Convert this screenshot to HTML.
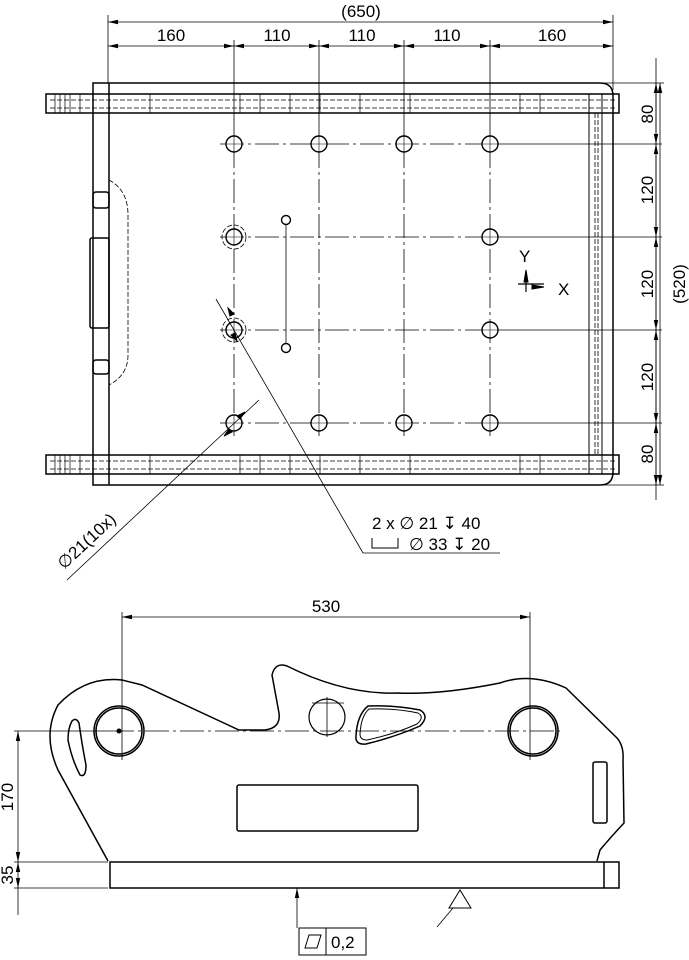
<!DOCTYPE html>
<html><head><meta charset="utf-8"><style>
html,body{margin:0;padding:0;background:#fff}
svg{display:block}
text{font-family:"Liberation Sans",Arial,sans-serif;fill:#000}
</style></head><body>
<svg width="689" height="960" viewBox="0 0 689 960" xmlns="http://www.w3.org/2000/svg">
<defs>
<marker id="a" markerWidth="10" markerHeight="6" refX="10" refY="3" orient="auto-start-reverse" markerUnits="userSpaceOnUse"><path d="M0,0.8 L10,3 L0,5.2z" fill="#000"/></marker>
</defs>
<g fill="none" stroke="#000">
<g stroke-width="0.8">
<line x1="108" y1="22" x2="613" y2="22" marker-start="url(#a)" marker-end="url(#a)"/>
<line x1="108" y1="46" x2="234" y2="46" marker-start="url(#a)" marker-end="url(#a)"/>
<line x1="234" y1="46" x2="319" y2="46" marker-start="url(#a)" marker-end="url(#a)"/>
<line x1="319" y1="46" x2="404" y2="46" marker-start="url(#a)" marker-end="url(#a)"/>
<line x1="404" y1="46" x2="490" y2="46" marker-start="url(#a)" marker-end="url(#a)"/>
<line x1="490" y1="46" x2="613" y2="46" marker-start="url(#a)" marker-end="url(#a)"/>
<line x1="108" y1="15" x2="108" y2="83"/>
<line x1="613" y1="15" x2="613" y2="90"/>
<line x1="234" y1="40" x2="234" y2="144"/>
<line x1="319" y1="40" x2="319" y2="144"/>
<line x1="404" y1="40" x2="404" y2="144"/>
<line x1="490" y1="40" x2="490" y2="144"/>
<line x1="656" y1="58" x2="656" y2="500"/>
<line x1="656" y1="83" x2="656" y2="144" marker-start="url(#a)" marker-end="url(#a)"/>
<line x1="656" y1="144" x2="656" y2="237" marker-start="url(#a)" marker-end="url(#a)"/>
<line x1="656" y1="237" x2="656" y2="330" marker-start="url(#a)" marker-end="url(#a)"/>
<line x1="656" y1="330" x2="656" y2="423" marker-start="url(#a)" marker-end="url(#a)"/>
<line x1="656" y1="423" x2="656" y2="485" marker-start="url(#a)" marker-end="url(#a)"/>
<line x1="660" y1="83" x2="660" y2="485" marker-start="url(#a)" marker-end="url(#a)"/>
<line x1="600" y1="83" x2="664" y2="83"/>
<line x1="600" y1="485" x2="664" y2="485"/>
<line x1="490" y1="144" x2="662" y2="144"/>
<line x1="490" y1="237" x2="662" y2="237"/>
<line x1="490" y1="330" x2="662" y2="330"/>
<line x1="490" y1="423" x2="662" y2="423"/>
</g>
<g stroke-width="1.5">
<path d="M93,83 H600 Q613,83 613,96 V472 Q613,485 600,485 H93 Z"/>
<line x1="109" y1="83" x2="109" y2="485"/>
<rect x="46" y="94" width="573" height="19"/>
<rect x="46" y="455" width="573" height="19"/>
<rect x="589" y="94" width="13" height="380" stroke-width="1"/>
<rect x="90" y="238" width="19" height="90" rx="2"/>
<rect x="93" y="192" width="16" height="16" rx="3"/>
<rect x="93" y="360" width="16" height="14" rx="3"/>
</g>
<g stroke-width="0.8" stroke-dasharray="5 2">
<line x1="50" y1="100" x2="615" y2="100"/>
<line x1="50" y1="108" x2="615" y2="108"/>
<line x1="50" y1="461" x2="615" y2="461"/>
<line x1="50" y1="469" x2="615" y2="469"/>
<line x1="595" y1="113" x2="595" y2="455"/>
<line x1="598" y1="113" x2="598" y2="455"/>
<path d="M109,180 Q128,190 128,215 V355 Q128,375 109,385"/>
<circle cx="234" cy="237" r="12"/>
<circle cx="234" cy="330" r="12"/>
</g>
<g stroke-width="0.7">
<path d="M55,94v19M60,94v19M65,94v19M70,94v19M80,94v19M150,94v19M240,94v19M260,94v19M290,94v19M320,94v19M360,94v19M410,94v19M520,94v19M540,94v19"/>
<path d="M55,455v19M60,455v19M65,455v19M70,455v19M80,455v19M150,455v19M240,455v19M260,455v19M290,455v19M320,455v19M360,455v19M410,455v19M520,455v19M540,455v19"/>
</g>
<g stroke-width="0.8" stroke-dasharray="24 4 3 4">
<line x1="220" y1="144" x2="490" y2="144"/>
<line x1="220" y1="237" x2="490" y2="237"/>
<line x1="220" y1="330" x2="490" y2="330"/>
<line x1="220" y1="423" x2="490" y2="423"/>
<line x1="234" y1="144" x2="234" y2="436"/>
<line x1="319" y1="144" x2="319" y2="436"/>
<line x1="404" y1="144" x2="404" y2="436"/>
<line x1="490" y1="144" x2="490" y2="436"/>
</g>
<line x1="286" y1="220" x2="286" y2="348" stroke-width="0.8"/>
<g stroke-width="1.4" fill="#fff">
<circle cx="234" cy="144" r="8"/><circle cx="319" cy="144" r="8"/><circle cx="404" cy="144" r="8"/><circle cx="490" cy="144" r="8"/>
<circle cx="234" cy="237" r="8"/><circle cx="490" cy="237" r="8"/>
<circle cx="234" cy="330" r="8"/><circle cx="490" cy="330" r="8"/>
<circle cx="234" cy="423" r="8"/><circle cx="319" cy="423" r="8"/><circle cx="404" cy="423" r="8"/><circle cx="490" cy="423" r="8"/>
<circle cx="286" cy="220" r="4.5"/><circle cx="286" cy="348" r="4.5"/>
</g>
<g stroke-width="0.6">
<path d="M234,136v16M226,144h16M319,136v16M311,144h16M404,136v16M396,144h16M490,136v16M482,144h16M234,229v16M226,237h16M490,229v16M482,237h16M234,322v16M226,330h16M490,322v16M482,330h16M234,415v16M226,423h16M319,415v16M311,423h16M404,415v16M396,423h16M490,415v16M482,423h16"/>
</g>
<g stroke-width="1.2"><line x1="526" y1="272" x2="526" y2="292"/><line x1="518" y1="284" x2="544" y2="284"/></g>
<path d="M526,270 l-2,12 h4z M544,287 l-12,-2 v4z" fill="#000"/>
<g stroke-width="0.8">
<line x1="67" y1="580" x2="259" y2="400"/>
<line x1="216" y1="299" x2="363" y2="553"/>
<line x1="363" y1="553" x2="500" y2="553"/>
</g>
<path d="M245,412 l-8,4 l3,3z M224,436 l8,-4 l-3,-3z M228,308 l2,8 l4,-2z M237,341 l-2,-8 l-4,2z" fill="#000"/>
<g stroke-width="0.8">
<line x1="122" y1="617" x2="530" y2="617" marker-start="url(#a)" marker-end="url(#a)"/>
<line x1="122" y1="612" x2="122" y2="760"/>
<line x1="530" y1="612" x2="530" y2="760"/>
<line x1="18" y1="731" x2="18" y2="862" marker-start="url(#a)" marker-end="url(#a)"/>
<line x1="18" y1="862" x2="18" y2="888" marker-start="url(#a)" marker-end="url(#a)"/>
<line x1="18" y1="888" x2="18" y2="915"/>
<line x1="14" y1="731" x2="110" y2="731"/>
<line x1="14" y1="862" x2="108" y2="862"/>
<line x1="14" y1="888" x2="108" y2="888"/>
<line x1="297" y1="888" x2="297" y2="928" marker-start="url(#a)"/>
<line x1="453" y1="908" x2="437" y2="927"/>
<line x1="312" y1="703" x2="344" y2="703"/><line x1="327" y1="697" x2="327" y2="737"/>
</g>
<line x1="110" y1="731" x2="560" y2="731" stroke-width="0.8" stroke-dasharray="24 4 3 4"/>
<g stroke-width="1.5">
<path d="M108,861 L58,770 Q42,735 58,705 Q85,676 122,680 L142,685 L239,730 H265 Q281,728 279,713 L272,675 Q275,662 287,666 Q345,695 398,693 Q440,695 500,683 Q531,672 566,688 L617,738 Q624,746 623,760 L624,823 Q610,838 600,850 L597,861"/>
<rect x="110" y="862" width="509" height="26"/>
<line x1="604" y1="862" x2="604" y2="888"/>
<circle cx="119" cy="731" r="25"/><circle cx="119" cy="731" r="23"/>
<circle cx="533" cy="731" r="25"/><circle cx="533" cy="731" r="23"/>
<circle cx="327" cy="717" r="18" stroke-width="1.2"/>
<path d="M368,706 Q395,705 420,710 Q430,716 420,726 Q395,737 366,744 Q355,745 356,736 Q357,715 368,706Z"/>
<path d="M369,709 Q395,708 418,713 Q425,717 417,724 Q395,734 367,740 Q360,740 360,734 Q361,716 369,709Z" stroke-width="1"/>
<path d="M72,721 Q76,717 79,723 Q82,745 86,765 Q86,778 80,775 Q72,760 68,740 Q68,728 72,721Z"/>
<rect x="237" y="785" width="181" height="46" rx="2"/>
<rect x="593" y="762" width="14" height="61" rx="2"/>
<rect x="299" y="928" width="67" height="27" stroke-width="1"/>
<line x1="326" y1="928" x2="326" y2="955" stroke-width="1"/>
<path d="M305,948 L309,935 H321 L317,948Z" stroke-width="1"/>
<path d="M460,890 L449,908 H471Z" stroke-width="1"/>
</g>
<circle cx="119" cy="731" r="2.5" fill="#000" stroke="none"/>
</g>
<g font-size="17">
<text x="361" y="17" text-anchor="middle">(650)</text>
<text x="171" y="41" text-anchor="middle">160</text>
<text x="277" y="41" text-anchor="middle">110</text>
<text x="362" y="41" text-anchor="middle">110</text>
<text x="447" y="41" text-anchor="middle">110</text>
<text x="552" y="41" text-anchor="middle">160</text>
<text transform="translate(653,114) rotate(-90)" text-anchor="middle">80</text>
<text transform="translate(653,190) rotate(-90)" text-anchor="middle">120</text>
<text transform="translate(653,284) rotate(-90)" text-anchor="middle">120</text>
<text transform="translate(653,377) rotate(-90)" text-anchor="middle">120</text>
<text transform="translate(653,454) rotate(-90)" text-anchor="middle">80</text>
<text transform="translate(685,284) rotate(-90)" text-anchor="middle">(520)</text>
<text x="519" y="262">Y</text>
<text x="558" y="295">X</text>
<text x="372" y="529">2 x ∅ 21 ↧ 40</text>
<text x="409" y="550">∅ 33 ↧ 20</text>
<text transform="translate(64,570) rotate(-43)">∅21(10x)</text>
<text x="326" y="612" text-anchor="middle">530</text>
<text transform="translate(13,797) rotate(-90)" text-anchor="middle">170</text>
<text transform="translate(13,875) rotate(-90)" text-anchor="middle">35</text>
<text x="331" y="948">0,2</text>
</g>
<path d="M372,538 V548 H398 V538" fill="none" stroke="#000" stroke-width="1"/>
</svg>
</body></html>
